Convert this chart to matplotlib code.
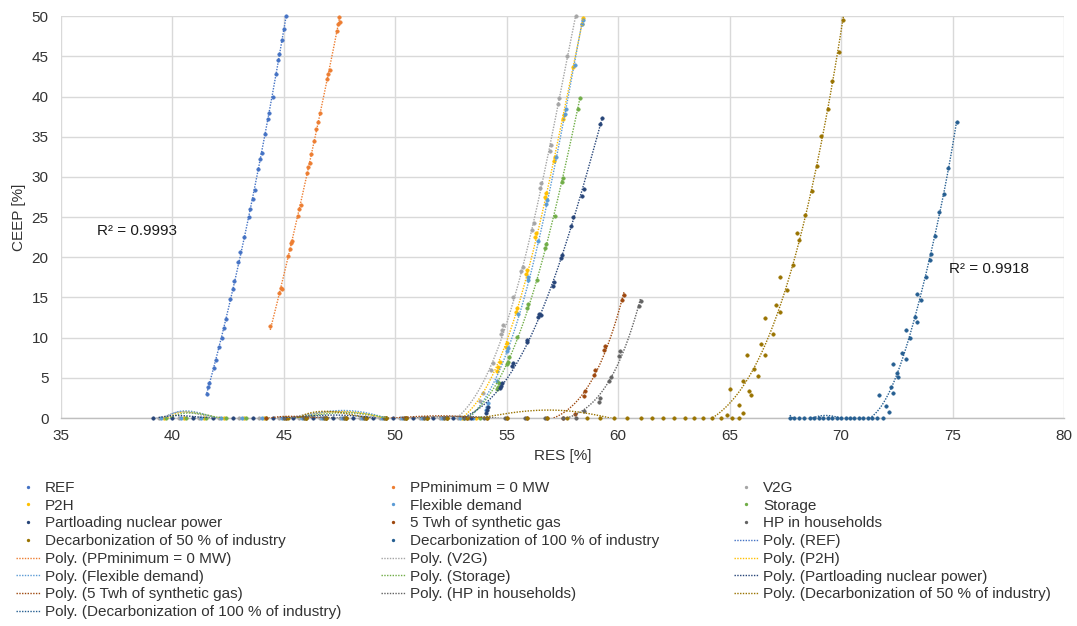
import numpy as np
import matplotlib
matplotlib.use("Agg")
import matplotlib.pyplot as plt
from matplotlib.lines import Line2D

plt.rcParams['font.family'] = ['Liberation Sans', 'DejaVu Sans']

# ---------------- data ----------------
names = ["REF", "PPminimum = 0 MW", "V2G", "P2H", "Flexible demand", "Storage",
         "Partloading nuclear power", "5 Twh of synthetic gas", "HP in households",
         "Decarbonization of 50 % of industry", "Decarbonization of 100 % of industry"]
colors = ["#4472C4", "#ED7D31", "#A5A5A5", "#FFC000", "#5B9BD5", "#70AD47",
          "#264478", "#9E480E", "#636363", "#997300", "#255E91"]
poly_order = [2, 2, 6, 6, 6, 6, 6, 6, 6, 6, 6]

ref_x = [41.54, 41.60, 41.65, 41.85, 41.95, 42.10, 42.23, 42.30, 42.40, 42.60, 42.70, 42.78,
         42.95, 43.05, 43.20, 43.42, 43.50, 43.60, 43.70, 43.85, 43.95, 44.00, 44.15, 44.28,
         44.35, 44.50, 44.65, 44.75, 44.80, 44.90, 45.00, 45.09]
ref_y = [3.0, 3.8, 4.3, 6.2, 7.2, 8.8, 10.0, 11.2, 12.3, 14.8, 16.0, 17.0,
         19.4, 20.6, 22.5, 25.0, 26.0, 27.3, 28.4, 31.0, 32.3, 33.0, 35.3, 37.2,
         38.0, 40.0, 42.8, 44.5, 45.3, 47.0, 48.4, 50.0]

pp_x = [44.39, 44.80, 44.85, 44.92, 45.20, 45.27, 45.32, 45.38, 45.62, 45.70, 45.78, 46.05,
        46.10, 46.15, 46.22, 46.35, 46.45, 46.52, 46.60, 46.95, 47.00, 47.05, 47.38, 47.42,
        47.48, 47.52]
pp_y = [11.5, 15.6, 16.2, 16.0, 20.2, 21.0, 21.8, 22.0, 25.2, 26.0, 26.5, 30.5,
        31.2, 31.8, 32.8, 34.5, 36.0, 36.8, 38.0, 42.2, 42.8, 43.3, 48.2, 49.0,
        49.9, 49.3]

v2g_x = [39.40, 40.30, 41.20, 42.10, 43.00, 43.90, 44.80, 45.70, 46.60, 47.50, 48.40, 49.30,
         50.20, 51.10, 52.00, 52.80, 53.30,
         53.80, 53.94, 54.30, 54.39, 54.72, 54.77, 54.85, 55.30, 55.65, 55.71, 56.11, 56.20,
         56.49, 56.55, 56.94, 57.00, 57.31, 57.36, 57.69, 58.10]
v2g_y = [0, 0, 0, 0, 0, 0, 0, 0, 0, 0, 0, 0,
         0, 0, 0, 0, 0,
         2.1, 3.1, 6.0, 6.8, 10.4, 11.0, 11.6, 15.0, 18.3, 18.8, 23.4, 24.3,
         28.6, 29.2, 33.2, 34.0, 39.1, 39.8, 45.0, 50.0]

p2h_x = [39.60, 40.50, 41.40, 42.30, 43.20, 44.10, 45.00, 45.90, 46.80, 47.70, 48.60, 49.50,
         50.40, 51.30, 52.20, 53.00, 53.60,
         54.55, 54.62, 54.68, 54.95, 55.00, 55.43, 55.47, 55.88, 55.92, 56.28, 56.31, 56.72,
         56.76, 57.12, 57.16, 57.53, 57.57, 57.95, 58.38, 58.43]
p2h_y = [0, 0, 0, 0, 0, 0, 0, 0, 0, 0, 0, 0,
         0, 0, 0, 0, 0,
         5.8, 6.4, 7.0, 8.8, 9.3, 13.2, 13.7, 17.9, 18.4, 22.5, 23.0, 27.5,
         28.0, 32.0, 32.5, 37.2, 37.7, 43.7, 49.0, 49.8]

flex_x = [39.50, 40.40, 41.30, 42.20, 43.10, 44.00, 44.90, 45.80, 46.70, 47.60, 48.50, 49.40,
          50.30, 51.20, 52.10, 52.90, 53.50,
          54.05, 54.10, 54.15, 54.55, 55.03, 55.07, 55.50, 55.93, 55.97, 56.40, 56.78, 56.82,
          57.23, 57.62, 57.66, 58.05, 58.36, 58.40]
flex_y = [0, 0, 0, 0, 0, 0, 0, 0, 0, 0, 0, 0,
          0, 0, 0, 0, 0,
          1.0, 1.4, 1.9, 4.6, 8.3, 8.7, 13.0, 17.2, 17.6, 22.0, 26.6, 27.1,
          32.5, 37.9, 38.4, 44.0, 49.0, 49.6]

sto_x = [39.70, 40.60, 41.50, 42.40, 43.30, 44.20, 45.10, 46.00, 46.90, 47.80, 48.70, 49.60,
         50.50, 51.40, 52.30, 53.10, 53.80,
         54.58, 54.62, 54.66, 55.03, 55.07, 55.12, 55.44, 55.89, 55.93, 56.34, 56.71, 56.75,
         57.16, 57.46, 57.50, 58.20, 58.28]
sto_y = [0, 0, 0, 0, 0, 0, 0, 0, 0, 0, 0, 0,
         0, 0, 0, 0, 0,
         3.6, 3.9, 4.4, 6.7, 7.0, 7.6, 10.1, 13.7, 14.2, 17.2, 21.1, 21.6,
         25.1, 29.4, 29.9, 38.5, 39.8]

pln_x = [39.15, 40.00, 40.90, 41.80, 42.70, 43.60, 44.50, 45.40, 46.30, 47.20, 48.10, 49.00,
         49.90, 50.80, 51.70, 52.60, 53.40,
         54.05, 54.10, 54.15, 54.70, 54.75, 54.80, 55.25, 55.29, 55.90, 55.92, 56.40, 56.46,
         56.55, 57.06, 57.10, 57.44, 57.46, 57.88, 57.98, 58.38, 58.45, 59.18, 59.26]
pln_y = [0, 0, 0, 0, 0, 0, 0, 0, 0, 0, 0, 0,
         0, 0, 0, 0, 0,
         0.6, 1.0, 1.4, 3.7, 4.0, 4.3, 6.5, 6.8, 9.5, 9.7, 12.6, 13.0,
         12.8, 16.4, 16.9, 19.9, 20.3, 23.9, 25.0, 27.6, 28.5, 36.6, 37.3]

gas_x = [44.20, 45.10, 46.00, 46.90, 47.80, 48.70, 49.60, 50.50, 51.40, 52.30, 53.20, 54.10,
         55.00, 55.90, 56.80, 57.50,
         58.06, 58.48, 58.52, 58.92, 58.98, 59.35, 59.40, 60.18, 60.27]
gas_y = [0, 0, 0, 0, 0, 0, 0, 0, 0, 0, 0, 0,
         0, 0, 0, 0,
         0.5, 2.8, 3.3, 5.4, 6.0, 8.5, 9.0, 14.7, 15.3]

hp_x = [45.00, 45.90, 46.80, 47.70, 48.60, 49.50, 50.40, 51.30, 52.20, 53.10, 54.00, 54.90,
        55.80, 56.70, 57.50, 58.10,
        58.45, 59.12, 59.18, 59.60, 59.66, 60.05, 60.10, 60.94, 61.00]
hp_y = [0, 0, 0, 0, 0, 0, 0, 0, 0, 0, 0, 0,
        0, 0, 0, 0,
        0.9, 2.0, 2.5, 4.6, 5.1, 7.7, 8.3, 14.0, 14.6]

d50_x = [45.20, 46.00, 46.90, 47.80, 48.70, 49.60, 50.50, 51.40, 52.30, 53.20, 54.10, 55.00,
         55.90, 56.80, 57.70, 58.60, 59.20, 59.80, 60.40, 61.00, 61.50, 62.00, 62.50, 63.00,
         63.40, 63.80, 64.20, 64.60, 65.10, 65.40,
         64.87, 65.01, 65.40, 65.60, 65.61, 65.80, 65.87, 65.97, 66.09, 66.25, 66.39, 66.60,
         66.60, 66.93, 67.10, 67.28, 67.28, 67.55, 67.82, 68.00, 68.10, 68.39, 68.68, 68.90,
         69.12, 69.41, 69.60, 69.92, 70.10]
d50_y = [0, 0, 0, 0, 0, 0, 0, 0, 0, 0, 0, 0,
         0, 0, 0, 0, 0, 0, 0, 0, 0, 0, 0, 0,
         0, 0, 0, 0, 0, 0,
         0.4, 3.6, 1.6, 0.6, 4.6, 7.9, 3.3, 2.9, 6.1, 5.2, 9.2, 12.4,
         7.9, 10.4, 14.1, 17.5, 13.2, 15.9, 19.1, 23.0, 22.1, 25.3, 28.2, 31.4,
         35.1, 38.4, 42.0, 45.5, 49.5]

d100_x = [67.70, 67.90, 68.10, 68.35, 68.60, 68.80, 69.00, 69.20, 69.40, 69.60, 69.80, 70.00,
          70.20, 70.40, 70.60, 70.80, 71.00, 71.20, 71.40, 71.60, 71.90,
          71.70, 72.00, 72.13, 72.22, 72.31, 72.31, 72.50, 72.53, 72.71, 72.91, 72.91, 73.09,
          73.31, 73.39, 73.39, 73.57, 73.79, 73.98, 74.02, 74.21, 74.40, 74.63, 74.80, 75.18]
d100_y = [0, 0, 0, 0, 0, 0, 0, 0, 0, 0, 0, 0,
          0, 0, 0, 0, 0, 0, 0, 0, 0,
          2.9, 1.5, 0.8, 3.9, 6.7, 3.1, 5.6, 5.1, 8.1, 11.0, 7.4, 10.0,
          12.6, 15.4, 12.0, 14.7, 17.6, 19.7, 20.4, 22.6, 25.6, 27.9, 31.1, 36.9]

series_x = [ref_x, pp_x, v2g_x, p2h_x, flex_x, sto_x, pln_x, gas_x, hp_x, d50_x, d100_x]
series_y = [ref_y, pp_y, v2g_y, p2h_y, flex_y, sto_y, pln_y, gas_y, hp_y, d50_y, d100_y]

r2_labels = ["R\u00b2 = 0.9993", "R\u00b2 = 0.9918"]
r2_pos = [(36.6, 23.3), (74.85, 18.5)]

# ---------------- figure ----------------
W, H = 1077, 626
fig = plt.figure(figsize=(W / 100, H / 100), dpi=100)
ax = fig.add_axes([61 / W, 1 - 418 / H, (1064 - 61) / W, (418 - 16.3) / H])

grid_c = "#D9D9D9"
fs = 11
txt_c = "#333333"

dot_handles = []
line_handles = []
for name, c, deg, xs, ys in zip(names, colors, poly_order, series_x, series_y):
    xs = np.asarray(xs, float)
    ys = np.asarray(ys, float)
    ax.plot(xs, ys, linestyle="none", marker="o", markersize=2.5, color=c,
            markeredgewidth=0.4, markeredgecolor=c, zorder=3, clip_on=False)
    p = np.polynomial.Polynomial.fit(xs, ys, deg)
    xx = np.linspace(xs.min(), xs.max(), 600)
    ax.plot(xx, p(xx), linestyle=(0, (1, 1)), linewidth=1.0, color=c, zorder=4)
    dot_handles.append(Line2D([], [], linestyle="none", marker="o", markersize=2.4,
                              color=c, markeredgewidth=0))
    line_handles.append(Line2D([], [], linestyle=(0, (1, 1)), linewidth=1.0, color=c))

for txt, (tx, ty) in zip(r2_labels, r2_pos):
    ax.text(tx, ty, txt, fontsize=fs, ha="left", va="center", color="#1a1a1a")

ax.set_xlim(35, 80)
ax.set_ylim(0, 50)
ax.set_xticks(np.arange(35, 81, 5))
ax.set_yticks(np.arange(0, 51, 5))
ax.grid(True, color=grid_c, linewidth=1.0)
ax.set_axisbelow(True)
for s in ["top", "right", "left"]:
    ax.spines[s].set_visible(False)
ax.spines["bottom"].set_color("#BFBFBF")
ax.spines["bottom"].set_linewidth(1.0)
ax.tick_params(length=0, labelsize=fs, labelcolor=txt_c)
ax.tick_params(axis="y", pad=9)
ax.tick_params(axis="x", pad=8)
ax.set_xlabel("RES [%]", fontsize=fs, color=txt_c, labelpad=4)
ax.set_ylabel("CEEP [%]", fontsize=fs, color=txt_c, labelpad=4)

labels_all = names + ["Poly. (%s)" % n for n in names]
handles_all = dot_handles + line_handles
# Excel lays legend entries row by row in three columns
col_x = [16, 381, 734]
for ci in range(3):
    idx = list(range(ci, len(labels_all), 3))
    leg = fig.legend([handles_all[i] for i in idx], [labels_all[i] for i in idx],
                     loc="upper left", bbox_to_anchor=(col_x[ci] / W, 1 - 481 / H),
                     frameon=False, fontsize=fs, handlelength=1.6, handletextpad=0.3,
                     labelspacing=0.245, borderpad=0.0, borderaxespad=0.0)
    for t in leg.get_texts():
        t.set_color(txt_c)

fig.savefig("out.png", dpi=100)
